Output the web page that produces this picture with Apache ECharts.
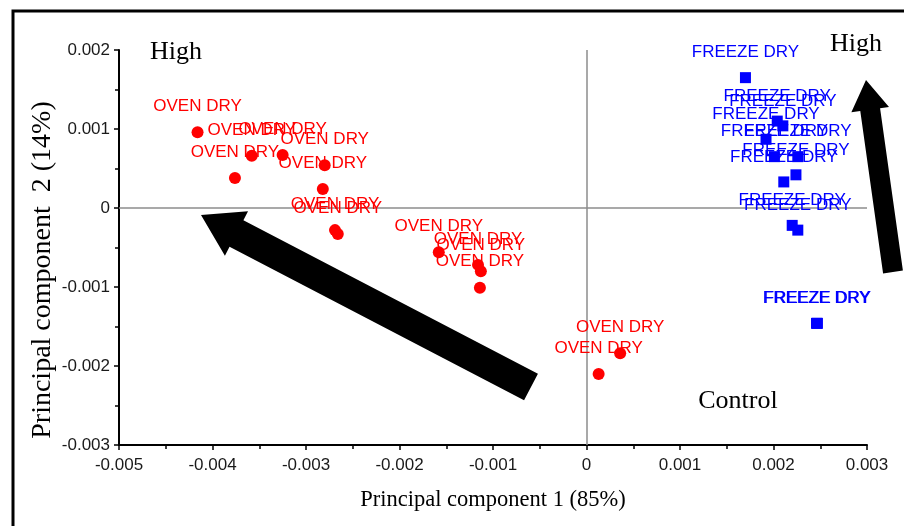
<!DOCTYPE html>
<html>
<head>
<meta charset="utf-8">
<script src="https://cdn.jsdelivr.net/npm/echarts@6/dist/echarts.min.js"></script>
<style>
  html, body { margin: 0; padding: 0; background: #fff; }
  #chart { width: 904px; height: 526px; }
</style>
</head>
<body>
<div id="chart"></div>
<script>
// PCA scores: [PC1, PC2]
const ovenDry = [
  [-0.00416, 0.00096],
  [-0.00358, 0.00066],
  [-0.00325, 0.00067],
  [-0.00376, 0.00038],
  [-0.00280, 0.00054],
  [-0.00282, 0.00024],
  [-0.00269, -0.00028],
  [-0.00266, -0.00033],
  [-0.00158, -0.00056],
  [-0.00116, -0.00072],
  [-0.00113, -0.00080],
  [-0.00114, -0.00101],
  [0.00036, -0.00184],
  [0.00013, -0.00210]
];
const freezeDry = [
  [0.00170, 0.00165],
  [0.00204, 0.00110],
  [0.00210, 0.00104],
  [0.00192, 0.00087],
  [0.00201, 0.00065],
  [0.00226, 0.00065],
  [0.00211, 0.00033],
  [0.00224, 0.00042],
  [0.00220, -0.00022],
  [0.00226, -0.00028],
  [0.00246, -0.00146],
  [0.00247, -0.00146]
];
const ovenLabel = 'OVEN DRY';
const freezeLabel = 'FREEZE DRY';
const xTitle = 'Principal component 1 (85%)';
const yTitle = 'Principal component  2 (14%)';
const notes = [
  { text: 'High', x: 176, y: 52 },
  { text: 'High', x: 856, y: 44 },
  { text: 'Control', x: 738, y: 401 }
];

const chart = echarts.init(document.getElementById('chart'));

// block arrow polygon from tip, tail and widths
function arrowPoints(tip, tail, shaftHalf, headHalf, headLen) {
  const dx = tip[0] - tail[0], dy = tip[1] - tail[1];
  const L = Math.hypot(dx, dy);
  const ux = dx / L, uy = dy / L;
  const nx = -uy, ny = ux;
  const bx = tip[0] - ux * headLen, by = tip[1] - uy * headLen;
  return [
    [tail[0] + nx * shaftHalf, tail[1] + ny * shaftHalf],
    [bx + nx * shaftHalf, by + ny * shaftHalf],
    [bx + nx * headHalf, by + ny * headHalf],
    tip,
    [bx - nx * headHalf, by - ny * headHalf],
    [bx - nx * shaftHalf, by - ny * shaftHalf],
    [tail[0] - nx * shaftHalf, tail[1] - ny * shaftHalf]
  ];
}

const serif = '"Liberation Serif", "Times New Roman", serif';
const sans = '"Liberation Sans", Arial, sans-serif';

const graphics = [
  {
    type: 'rect', silent: true, z: 100,
    shape: { x: 13, y: 11, width: 1000, height: 1000 },
    style: { fill: 'none', stroke: '#000', lineWidth: 3 }
  },
  {
    type: 'polygon', z: 50,
    shape: { points: arrowPoints([201, 215], [531, 387], 15, 25, 40) },
    style: { fill: '#000' }
  },
  {
    type: 'polygon', z: 50,
    shape: { points: arrowPoints([866, 80], [893, 272], 10, 19, 30) },
    style: { fill: '#000' }
  },
  {
    type: 'text', z: 60,
    x: 43, y: 270, rotation: Math.PI / 2,
    style: {
      text: yTitle, font: '28px ' + serif, fill: '#000',
      align: 'center', verticalAlign: 'middle'
    }
  }
];
notes.forEach(n => graphics.push({
  type: 'text', z: 60, x: n.x, y: n.y,
  style: { text: n.text, font: '26px ' + serif, fill: '#000', align: 'center', verticalAlign: 'middle' }
}));

function fmt(v) {
  if (Math.abs(v) < 1e-12) return '0';
  return (Math.round(v * 1000) / 1000).toFixed(3);
}

chart.setOption({
  animation: false,
  backgroundColor: '#fff',
  grid: { left: 119, right: 37, top: 50, bottom: 81 },
  xAxis: {
    type: 'value', min: -0.005, max: 0.003, interval: 0.001,
    name: xTitle, nameLocation: 'middle', nameGap: 44,
    nameTextStyle: { fontFamily: serif, fontSize: 22.5, color: '#000' },
    axisLine: { onZero: false, lineStyle: { color: '#000', width: 2 } },
    axisTick: { show: true, length: 5, lineStyle: { color: '#000', width: 1.5 } },
    minorTick: { show: true, splitNumber: 2, length: 4, lineStyle: { color: '#000', width: 1.5 } },
    axisLabel: { fontFamily: sans, fontSize: 17, color: '#1a1a1a', margin: 12, formatter: fmt },
    splitLine: { show: false }
  },
  yAxis: {
    type: 'value', min: -0.003, max: 0.002, interval: 0.001,
    axisLine: { onZero: false, lineStyle: { color: '#000', width: 2 } },
    axisTick: { show: true, length: 5, lineStyle: { color: '#000', width: 1.5 } },
    minorTick: { show: true, splitNumber: 2, length: 4, lineStyle: { color: '#000', width: 1.5 } },
    axisLabel: { fontFamily: sans, fontSize: 17, color: '#1a1a1a', margin: 9, formatter: fmt },
    splitLine: { show: false }
  },
  series: [
    {
      type: 'scatter', name: ovenLabel, data: ovenDry,
      symbol: 'circle', symbolSize: 12,
      itemStyle: { color: '#ff0000', opacity: 1 },
      label: {
        show: true, formatter: ovenLabel, position: 'inside', offset: [0, -26],
        color: '#ff0000', fontFamily: sans, fontSize: 17
      },
      markLine: {
        silent: true, symbol: 'none', animation: false,
        label: { show: false },
        lineStyle: { color: '#8c8c8c', width: 1.5, type: 'solid' },
        data: [{ xAxis: 0 }, { yAxis: 0 }]
      },
      z: 5
    },
    {
      type: 'scatter', name: freezeLabel, data: freezeDry,
      symbol: 'rect', symbolSize: 11,
      itemStyle: { color: '#0000ff', opacity: 1 },
      label: {
        show: true, formatter: freezeLabel, position: 'inside', offset: [0, -25],
        color: '#0000ff', fontFamily: sans, fontSize: 17
      },
      z: 5
    }
  ],
  graphic: graphics
});
</script>
</body>
</html>
